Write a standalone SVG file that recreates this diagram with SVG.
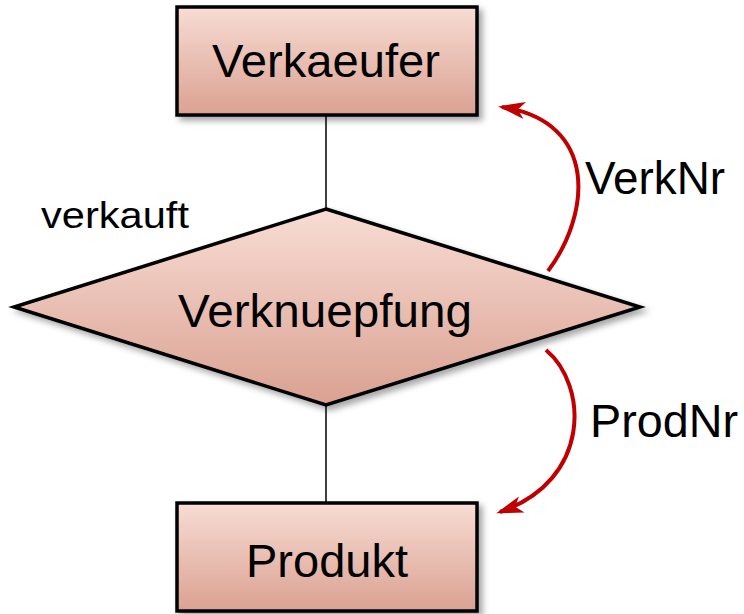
<svg xmlns="http://www.w3.org/2000/svg" width="744" height="614" viewBox="0 0 744 614">
  <defs>
    <linearGradient id="fillGrad" x1="0" y1="0" x2="0" y2="1">
      <stop offset="0" stop-color="#F8DCD4"/>
      <stop offset="1" stop-color="#DAA191"/>
    </linearGradient>
    <filter id="shadow" x="-10%" y="-10%" width="125%" height="130%">
      <feDropShadow dx="4" dy="4" stdDeviation="3" flood-color="#000" flood-opacity="0.35"/>
    </filter>
    <marker id="stealth" markerUnits="userSpaceOnUse" markerWidth="32" markerHeight="22"
            viewBox="0 -11 32 22" refX="26" refY="0" orient="auto">
      <path d="M30,0 L3,-8.5 L10,0 L3,8.5 Z" fill="#C00000"/>
    </marker>
    <style>
      .shape { fill: url(#fillGrad); stroke: #000; stroke-width: 3.5; filter: url(#shadow); }
      .label { font-family: "Liberation Sans", Arial, sans-serif; fill: #000; }
      .link { stroke: #000; stroke-width: 1.5; fill: none; }
      .role { stroke: #C00000; stroke-width: 4; fill: none; marker-end: url(#stealth); }
    </style>
  </defs>

  <!-- connectors between entities and relationship -->
  <g id="connectors">
    <line class="link" x1="326" y1="115" x2="326" y2="209"/>
    <line class="link" x1="326" y1="405" x2="326" y2="503"/>
    <path class="role" d="M548,271 C590,215 600,122 502,107"/>
    <path class="role" d="M546,350 C588,385 592,480 500,512"/>
  </g>

  <g id="verkaeufer">
    <rect class="shape" x="177" y="7" width="300" height="108"/>
    <text class="label" x="326" y="77" font-size="46" text-anchor="middle" textLength="228" lengthAdjust="spacingAndGlyphs">Verkaeufer</text>
  </g>

  <g id="verknuepfung">
    <polygon class="shape" points="326,209 640,307 326,405 14,307"/>
    <text class="label" x="325" y="327" font-size="47" text-anchor="middle" textLength="294" lengthAdjust="spacingAndGlyphs">Verknuepfung</text>
  </g>

  <g id="produkt">
    <rect class="shape" x="177" y="503" width="300" height="108"/>
    <text class="label" x="327" y="577" font-size="47" text-anchor="middle" textLength="162" lengthAdjust="spacingAndGlyphs">Produkt</text>
  </g>

  <!-- relationship and role labels -->
  <g id="labels">
    <text class="label" x="41" y="228" font-size="37" textLength="148" lengthAdjust="spacingAndGlyphs">verkauft</text>
    <text class="label" x="585" y="194" font-size="46" textLength="140" lengthAdjust="spacingAndGlyphs">VerkNr</text>
    <text class="label" x="590" y="437" font-size="46" textLength="148" lengthAdjust="spacingAndGlyphs">ProdNr</text>
  </g>
</svg>
